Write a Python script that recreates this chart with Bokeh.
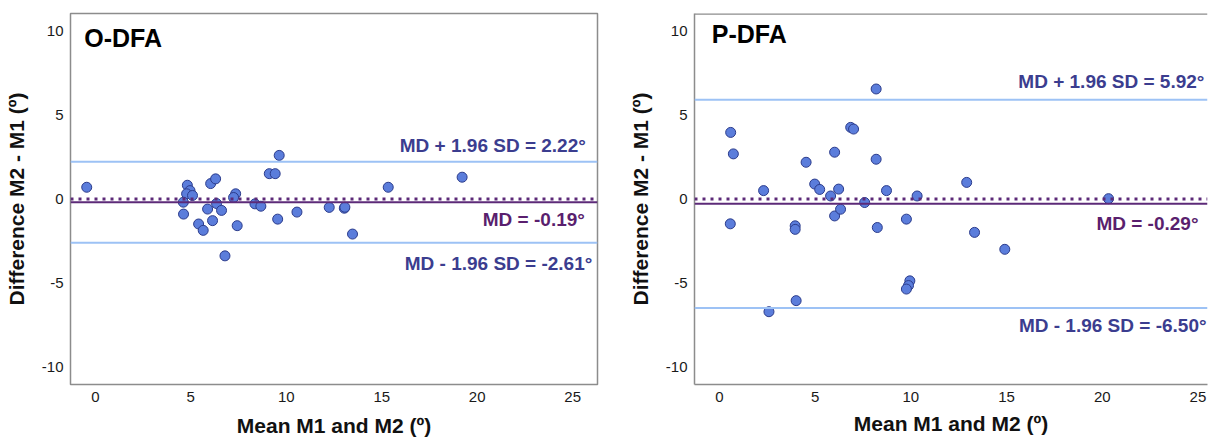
from bokeh.plotting import figure
from bokeh.models import Span, Label, Range1d, FixedTicker
from bokeh.layouts import row
from bokeh.embed import file_html
from bokeh.resources import INLINE

# ---------------- data ----------------
x_ticks = [0, 5, 10, 15, 20, 25]
y_ticks = [-10, -5, 0, 5, 10]

o_title = "O-DFA"
o_mean = [-0.45, 4.82, 4.96, 4.78, 5.09, 4.61, 4.62, 5.41, 5.65, 6.04, 6.30, 5.88,
          6.14, 6.35, 6.61, 6.79, 7.35, 7.24, 7.43, 8.36, 8.67, 9.11, 9.42, 9.63,
          9.55, 10.56, 12.25, 13.04, 13.07, 13.47, 15.34, 19.21]
o_diff = [0.70, 0.82, 0.50, 0.31, 0.21, -0.19, -0.90, -1.49, -1.87, 0.92, 1.20, -0.60,
          -1.29, -0.27, -0.68, -3.39, 0.31, 0.09, -1.59, -0.29, -0.43, 1.51, 1.51, 2.60,
          -1.20, -0.78, -0.50, -0.55, -0.49, -2.09, 0.70, 1.30]
o_md, o_upper, o_lower = -0.19, 2.22, -2.61

p_title = "P-DFA"
p_mean = [0.59, 0.73, 0.57, 2.31, 2.59, 3.96, 3.96, 4.01, 4.53, 4.98, 5.24, 5.81,
          6.02, 6.02, 6.23, 6.33, 6.86, 7.01, 7.59, 8.19, 8.19, 8.25, 8.73, 9.77,
          9.95, 9.88, 9.77, 10.33, 12.92, 13.33, 14.91, 20.33]
p_diff = [3.97, 2.69, -1.48, 0.50, -6.72, -1.60, -1.81, -6.06, 2.19, 0.89, 0.57, 0.18,
          2.79, -1.01, 0.59, -0.61, 4.27, 4.17, -0.21, 6.56, 2.37, -1.70, 0.50, -1.20,
          -4.88, -5.16, -5.37, 0.18, 0.99, -1.99, -3.00, 0.02]
p_md, p_upper, p_lower = -0.29, 5.92, -6.50

x_label = "Mean M1 and M2 (\u00ba)"
y_label = "Difference M2 - M1 (\u00ba)"

# ---------------- style ----------------
FONT = "Liberation Sans"
FRAME = "#8c8c8c"
LOA_COLOR = "#9dc2f5"
MD_COLOR = "#5c2a78"
LOA_TEXT = "#3b3d8f"
MD_TEXT = "#5a1f6e"
PT_FILL = "#5b7ddb"
PT_LINE = "#2c3c8c"
Y_HALF = 11.06


def panel(title, mean, diff, md, upper, lower, width, mbl, mbr, mbt, mbb,
          x_end, full_outline, title_pos, text_pos, xlab_standoff):
    p = figure(width=width, height=440, output_backend="svg", toolbar_location=None,
               x_range=Range1d(-1.3, x_end), y_range=Range1d(-Y_HALF, Y_HALF),
               min_border_left=mbl, min_border_right=mbr,
               min_border_top=mbt, min_border_bottom=mbb)
    p.background_fill_color = "white"
    p.border_fill_color = "white"
    p.xgrid.visible = False
    p.ygrid.visible = False
    if full_outline:
        p.outline_line_color = FRAME
        p.outline_line_width = 1.5
        p.outline_line_alpha = 1.0
        axis_line = None
    else:
        p.outline_line_color = None
        axis_line = FRAME
        p.add_layout(Span(location=Y_HALF, dimension="width",
                          line_color=FRAME, line_width=2.5))

    p.xaxis.ticker = FixedTicker(ticks=x_ticks)
    p.yaxis.ticker = FixedTicker(ticks=y_ticks)
    p.yaxis.major_label_overrides = {t: str(t) for t in y_ticks}
    p.xaxis.major_label_overrides = {t: str(t) for t in x_ticks}
    for ax in (p.xaxis, p.yaxis):
        ax.axis_line_color = axis_line
        ax.axis_line_width = 1.5
        ax.major_tick_out = 0
        ax.major_tick_in = 0
        ax.minor_tick_out = 0
        ax.minor_tick_in = 0
        ax.major_label_text_font = FONT
        ax.major_label_text_font_size = "15px"
        ax.major_label_text_color = "#1a1a1a"
        ax.major_label_standoff = 7
        ax.axis_label_text_font = FONT
        ax.axis_label_text_font_size = "21px"
        ax.axis_label_text_font_style = "bold"
        ax.axis_label_text_color = "#111111"
    p.xaxis.axis_label = x_label
    p.yaxis.axis_label = y_label
    p.xaxis.axis_label_standoff = xlab_standoff
    p.yaxis.axis_label_standoff = 11

    # reference lines
    p.add_layout(Span(location=0, dimension="width", line_color=MD_COLOR,
                      line_width=3, line_dash="3 5"))
    p.add_layout(Span(location=md, dimension="width", line_color=MD_COLOR, line_width=2))
    p.add_layout(Span(location=upper, dimension="width", line_color=LOA_COLOR, line_width=2))
    p.add_layout(Span(location=lower, dimension="width", line_color=LOA_COLOR, line_width=2))

    p.scatter(mean, diff, size=10, fill_color=PT_FILL, line_color=PT_LINE, line_width=1)

    p.add_layout(Label(x=title_pos[0], y=title_pos[1], text=title, text_align="left",
                       text_baseline="middle", text_font=FONT, text_font_size="25px",
                       text_font_style="bold", text_color="black"))

    texts = [
        (f"MD + 1.96 SD = {upper:.2f}\u00b0", LOA_TEXT),
        (f"MD = {md:.2f}\u00b0", MD_TEXT),
        (f"MD - 1.96 SD = {lower:.2f}\u00b0", LOA_TEXT),
    ]
    for (txt, col), (tx, ty) in zip(texts, text_pos):
        p.add_layout(Label(x=tx, y=ty, text=txt, text_align="right",
                           text_baseline="middle", text_font=FONT,
                           text_font_size="19px", text_font_style="bold",
                           text_color=col))
    return p


left = panel(o_title, o_mean, o_diff, o_md, o_upper, o_lower,
             width=620, mbl=70, mbr=23, mbt=11, mbb=56, x_end=26.3,
             full_outline=True, title_pos=(-0.58, 9.6),
             text_pos=[(25.69, 3.17), (25.64, -1.22), (26.03, -3.85)],
             xlab_standoff=9)

right = panel(p_title, p_mean, p_diff, p_md, p_upper, p_lower,
              width=591, mbl=74, mbr=4, mbt=13, mbb=54, x_end=25.5,
              full_outline=False, title_pos=(-0.40, 9.82),
              text_pos=[(25.34, 6.98), (25.03, -1.48), (25.45, -7.56)],
              xlab_standoff=7)

layout = row(left, right, spacing=0)

open("out.html", "w").write(file_html(layout, INLINE))
